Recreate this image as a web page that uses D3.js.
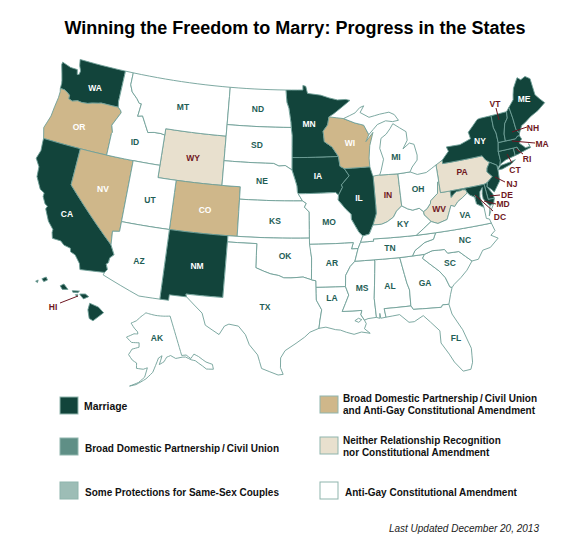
<!DOCTYPE html>
<html>
<head>
<meta charset="utf-8">
<script src="https://cdn.jsdelivr.net/npm/d3@7"></script>
<style>
  html, body { margin: 0; padding: 0; background: #fff; }
  svg { display: block; }
  text { font-family: "Liberation Sans", Arial, sans-serif; }
</style>
</head>
<body>
<svg id="chart" width="588" height="551"></svg>
<script>
// state outlines, [lon, lat]
const WA = [[[-122.76,49],[-117.03,49],[-117.04,46.42],[-116.92,45.99],[-118.98,46],[-119.3,45.93],[-119.99,45.82],[-120.5,45.7],[-121.2,45.65],[-121.7,45.7],[-122.3,45.55],[-122.76,45.65],[-122.8,45.95],[-123.2,46.15],[-123.55,46.26],[-124.05,46.27],[-124.07,46.7],[-124.15,46.95],[-124.4,47.5],[-124.73,48.17],[-124.7,48.38],[-123.6,48.15],[-122.75,48.14],[-122.6,47.75],[-122.38,47.8],[-122.32,48.1],[-122.6,48.5]]];
const OR = [[[-124.05,46.27],[-123.55,46.26],[-123.2,46.15],[-122.8,45.95],[-122.76,45.65],[-122.3,45.55],[-121.7,45.7],[-121.2,45.65],[-120.5,45.7],[-119.99,45.82],[-119.3,45.93],[-118.98,46],[-116.92,45.99],[-116.55,45.75],[-116.46,45.6],[-116.85,45],[-117.2,44.45],[-116.95,43.9],[-117.03,43.8],[-117.03,42],[-124.21,42],[-124.55,42.84],[-124.15,43.9],[-124.07,44.7],[-123.95,45.5],[-123.95,46]]];
const CA = [[[-124.21,42],[-120,42],[-120,39],[-114.63,35],[-114.14,34.26],[-114.5,33.95],[-114.53,33.55],[-114.72,33.4],[-114.5,33],[-114.72,32.72],[-117.12,32.53],[-117.3,33],[-117.9,33.6],[-118.4,33.75],[-118.5,34.03],[-119.2,34.15],[-119.6,34.42],[-120.47,34.45],[-120.65,34.9],[-120.65,35.15],[-121.3,35.7],[-121.9,36.6],[-121.8,36.85],[-122.1,36.97],[-122.5,37.5],[-122.5,37.8],[-123,38],[-123.7,38.9],[-123.8,39.7],[-124.35,40.3],[-124.1,41],[-124.2,41.75]]];
const NV = [[[-120,42],[-114.04,42],[-114.04,36.2],[-114.75,36.1],[-114.63,35],[-120,39]]];
const ID = [[[-117.03,49],[-116.05,49],[-116.05,48],[-115.7,47.45],[-115,47],[-114.6,46.65],[-114.35,46.65],[-114.5,45.6],[-113.95,45.7],[-113.45,45.05],[-113,44.45],[-112.3,44.55],[-111.5,44.55],[-111.05,44.48],[-111.05,42],[-117.03,42],[-117.03,43.8],[-116.95,43.9],[-117.2,44.45],[-116.85,45],[-116.46,45.6],[-116.55,45.75],[-116.92,45.99],[-117.04,46.42]]];
const MT = [[[-116.05,49],[-104.05,49],[-104.05,45],[-111.05,45],[-111.05,44.48],[-111.5,44.55],[-112.3,44.55],[-113,44.45],[-113.45,45.05],[-113.95,45.7],[-114.5,45.6],[-114.35,46.65],[-114.6,46.65],[-115,47],[-115.7,47.45],[-116.05,48]]];
const WY = [[[-111.05,45],[-104.05,45],[-104.05,41],[-111.05,41]]];
const UT = [[[-114.04,42],[-111.05,42],[-111.05,41],[-109.05,41],[-109.05,37],[-114.04,37]]];
const CO = [[[-109.05,41],[-102.05,41],[-102.05,37],[-109.05,37]]];
const AZ = [[[-114.04,37],[-109.05,37],[-109.05,31.33],[-111.07,31.33],[-114.81,32.5],[-114.72,32.72],[-114.5,33],[-114.72,33.4],[-114.53,33.55],[-114.5,33.95],[-114.14,34.26],[-114.63,35],[-114.75,36.1],[-114.04,36.2]]];
const NM = [[[-109.05,37],[-103,37],[-103.05,32],[-106.62,32],[-106.53,31.78],[-108.2,31.78],[-108.2,31.33],[-109.05,31.33]]];
const ND = [[[-104.05,49],[-97.23,49],[-97.1,48],[-96.85,47.5],[-96.6,46.35],[-96.56,45.94],[-104.05,45.94]]];
const SD = [[[-104.05,45.94],[-96.56,45.94],[-96.45,45.3],[-96.45,43.5],[-96.45,42.5],[-97.2,42.85],[-97.9,42.8],[-98.5,43],[-104.05,43]]];
const NE = [[[-104.05,43],[-98.5,43],[-97.9,42.8],[-97.2,42.85],[-96.45,42.5],[-96.1,41.7],[-95.9,41.2],[-95.85,40.7],[-95.3,40],[-102.05,40],[-102.05,41],[-104.05,41]]];
const KS = [[[-102.05,40],[-95.3,40],[-94.9,39.8],[-95.1,39.5],[-94.6,39.1],[-94.62,37],[-102.05,37]]];
const OK = [[[-103,37],[-94.62,37],[-94.43,35.4],[-94.48,33.64],[-95.3,33.87],[-96.5,33.8],[-97.2,33.8],[-97.7,33.98],[-98.5,34.1],[-99.2,34.3],[-100,34.56],[-100,36.5],[-103,36.5]]];
const TX = [[[-103,36.5],[-100,36.5],[-100,34.56],[-99.2,34.3],[-98.5,34.1],[-97.7,33.98],[-97.2,33.8],[-96.5,33.8],[-95.3,33.87],[-94.48,33.64],[-94.04,33.55],[-94.04,33.02],[-94.04,31.99],[-93.55,31.2],[-93.75,30.3],[-93.85,29.7],[-94.7,29.4],[-95.2,29],[-96,28.5],[-97,27.9],[-97.4,27.3],[-97.4,26.5],[-97.15,25.96],[-97.6,25.9],[-99.1,26.4],[-99.5,27.5],[-100.3,28.3],[-100.7,29.1],[-101.4,29.77],[-102.3,29.88],[-102.7,29.7],[-103.15,28.98],[-104.5,29.65],[-104.9,30.6],[-106.53,31.78],[-106.62,32],[-103.05,32]]];
const MN = [[[-97.23,49],[-95.15,49],[-95.15,49.38],[-94.8,49.3],[-94.6,48.72],[-93,48.55],[-92,48.3],[-91,48.1],[-90,48.1],[-89.5,48],[-91.5,47],[-92.1,46.75],[-92.3,46.1],[-92.85,45.6],[-92.75,44.75],[-91.9,44.3],[-91.22,43.5],[-96.45,43.5],[-96.45,45.3],[-96.56,45.94],[-96.6,46.35],[-96.85,47.5],[-97.1,48]]];
const IA = [[[-96.45,43.5],[-91.22,43.5],[-91.1,42.7],[-90.64,42.5],[-90.15,41.9],[-91.05,41.2],[-90.95,41],[-91.42,40.38],[-91.73,40.61],[-95.77,40.58],[-95.85,40.7],[-95.9,41.2],[-96.1,41.7],[-96.45,42.5]]];
const MO = [[[-95.77,40.58],[-91.73,40.61],[-91.42,40.38],[-91.5,40],[-90.75,39.25],[-90.2,38.8],[-90.2,38.4],[-89.5,37.3],[-89.13,36.98],[-89.4,36.5],[-89.7,36],[-90.37,36],[-90.15,36.5],[-94.62,36.5],[-94.62,37],[-94.6,39.1],[-95.1,39.5],[-94.9,39.8],[-95.3,40]]];
const AR = [[[-94.62,36.5],[-90.15,36.5],[-90.37,36],[-89.7,36],[-90.1,35],[-90.6,34.6],[-91.1,33.9],[-91.17,33],[-94.04,33.02],[-94.04,33.55],[-94.48,33.64],[-94.43,35.4]]];
const LA = [[[-94.04,33.02],[-91.17,33],[-90.9,32.3],[-91.6,31],[-89.73,31],[-89.85,30.65],[-89.55,30.2],[-89.4,29.9],[-89.6,29.5],[-89.1,29.1],[-89.9,29.25],[-90.6,29.1],[-91.3,29.3],[-91.85,29.5],[-92.3,29.55],[-93.2,29.78],[-93.85,29.7],[-93.75,30.3],[-93.55,31.2],[-94.04,31.99]],
  [[-90.45,30.2],[-90.1,30.38],[-89.8,30.25],[-90.1,30.05]]];
const MS = [[[-90.1,35],[-88.2,35],[-88.1,34.9],[-88.47,31.9],[-88.4,30.35],[-89.2,30.3],[-89.55,30.2],[-89.85,30.65],[-89.73,31],[-91.6,31],[-90.9,32.3],[-91.17,33],[-91.1,33.9],[-90.6,34.6]]];
const AL = [[[-88.2,35],[-85.6,34.98],[-85.18,32.87],[-85,32.3],[-85.05,31],[-87.6,31],[-87.5,30.3],[-88,30.25],[-88.05,30.65],[-88.1,30.25],[-88.4,30.35],[-88.47,31.9],[-88.1,34.9]]];
const GA = [[[-85.6,34.98],[-83.1,35],[-83.35,34.7],[-82.75,34.2],[-81.9,33.5],[-81.4,32.9],[-81.1,32.1],[-80.9,32.03],[-81.15,31.5],[-81.45,30.72],[-82.05,30.75],[-82.2,30.57],[-84.86,30.7],[-85.05,31],[-85,32.3],[-85.18,32.87]]];
const FL = [[[-87.6,31],[-85.05,31],[-84.86,30.7],[-82.2,30.57],[-82.05,30.75],[-81.45,30.72],[-81.3,29.9],[-80.55,28.5],[-80.05,26.9],[-80.15,25.75],[-80.4,25.2],[-81.1,25.15],[-81.75,26],[-82.1,26.7],[-82.7,27.7],[-82.65,28.7],[-83.4,29.5],[-84,30.1],[-84.9,29.7],[-85.4,29.7],[-86.2,30.4],[-87.5,30.3]]];
const SC = [[[-83.1,35],[-82.3,35.2],[-81.05,35.15],[-80.8,34.82],[-79.67,34.8],[-78.55,33.86],[-79.2,33.2],[-79.9,32.7],[-80.65,32.25],[-80.9,32.03],[-81.1,32.1],[-81.4,32.9],[-81.9,33.5],[-82.75,34.2],[-83.35,34.7]]];
const NC = [[[-84.32,34.99],[-83.1,35],[-82.3,35.2],[-81.05,35.15],[-80.8,34.82],[-79.67,34.8],[-78.55,33.86],[-77.9,33.9],[-77.3,34.55],[-76.5,34.65],[-75.55,35.25],[-76.2,35.6],[-75.7,35.9],[-75.9,36.55],[-81.68,36.59],[-82,36.1],[-82.9,35.95],[-84,35.4]]];
const TN = [[[-90.1,35],[-88.2,35],[-85.6,34.98],[-84.32,34.99],[-84,35.4],[-82.9,35.95],[-82,36.1],[-81.68,36.59],[-83.67,36.6],[-88.07,36.68],[-88.07,36.5],[-89.4,36.5],[-89.7,36]]];
const KY = [[[-89.4,36.5],[-88.07,36.5],[-88.07,36.68],[-83.67,36.6],[-81.97,37.54],[-82.6,38.17],[-82.6,38.42],[-83,38.73],[-83.7,38.65],[-84.2,38.8],[-84.8,39.1],[-85.4,38.73],[-85.8,38.27],[-86.5,37.95],[-87.1,37.8],[-88,37.8],[-88.45,37.1],[-89.13,36.98]]];
const VA = [[[-83.67,36.6],[-81.68,36.59],[-75.9,36.55],[-76,36.9],[-76.3,37],[-76.3,37.9],[-77,38.3],[-77.05,38.85],[-77.5,39.1],[-77.72,39.32],[-78.35,39],[-78.87,38.77],[-79.3,38.42],[-79.65,38.57],[-80.3,37.5],[-81.3,37.3],[-81.97,37.54]],
  [[-75.95,37.15],[-75.65,37.95],[-75.24,38.03],[-75.7,37.5]]];
const WV = [[[-81.97,37.54],[-81.3,37.3],[-80.3,37.5],[-79.65,38.57],[-79.3,38.42],[-78.87,38.77],[-78.35,39],[-77.72,39.32],[-77.83,39.6],[-78.2,39.65],[-78.4,39.6],[-78.8,39.6],[-79.1,39.47],[-79.48,39.2],[-79.48,39.72],[-80.52,39.72],[-80.52,40.64],[-80.65,40.6],[-80.85,39.7],[-81.7,39.2],[-81.75,39],[-82.2,38.6],[-82.6,38.42],[-82.6,38.17]]];
const OH = [[[-84.8,41.7],[-83.45,41.73],[-82.7,41.45],[-81.7,41.5],[-80.52,41.98],[-80.52,40.64],[-80.65,40.6],[-80.85,39.7],[-81.7,39.2],[-81.75,39],[-82.2,38.6],[-82.6,38.42],[-83,38.73],[-83.7,38.65],[-84.2,38.8],[-84.8,39.1]]];
const IN = [[[-87.53,41.71],[-87.2,41.75],[-86.8,41.76],[-84.8,41.7],[-84.8,39.1],[-85.4,38.73],[-85.8,38.27],[-86.5,37.95],[-87.1,37.8],[-88,37.8],[-87.55,38.7],[-87.53,39.35]]];
const IL = [[[-90.64,42.5],[-87.8,42.5],[-87.6,41.85],[-87.53,41.71],[-87.53,39.35],[-87.55,38.7],[-88,37.8],[-88.45,37.1],[-89.13,36.98],[-89.5,37.3],[-90.2,38.4],[-90.2,38.8],[-90.75,39.25],[-91.5,40],[-91.42,40.38],[-90.95,41],[-91.05,41.2],[-90.15,41.9]]];
const WI = [[[-92.1,46.75],[-90.4,46.55],[-89.1,46.13],[-88.1,45.9],[-87.6,45.1],[-88,44.55],[-87.1,45.25],[-87.6,44.2],[-87.8,43.2],[-87.8,42.5],[-90.64,42.5],[-91.1,42.7],[-91.22,43.5],[-91.9,44.3],[-92.75,44.75],[-92.85,45.6],[-92.3,46.1]]];
const MI = [[[-84.8,41.7],[-83.45,41.73],[-83.15,42.1],[-82.5,42.6],[-82.42,43],[-82.6,43.9],[-83.1,44.05],[-83.9,43.65],[-83.3,44.3],[-83.3,45],[-84.7,45.78],[-85.1,45.4],[-85.6,45],[-86.25,44.7],[-86.5,43.9],[-86.2,43],[-86.6,42.1],[-86.8,41.76]],
  [[-90.4,46.55],[-89,46.95],[-88.4,47.35],[-87.9,47.47],[-88.4,46.95],[-87.4,46.5],[-86.1,46.67],[-85,46.75],[-84.4,46.5],[-84,46],[-84.7,45.95],[-85.5,46.08],[-86.5,45.85],[-87.6,45.1],[-88.1,45.9],[-89.1,46.13]]];
const PA = [[[-80.52,41.98],[-79.76,42.27],[-79.76,42],[-75.35,42],[-75.05,41.6],[-74.7,41.36],[-75.1,40.95],[-75.2,40.65],[-74.75,40.2],[-75.42,39.8],[-75.79,39.72],[-80.52,39.72]]];
const NY = [[[-79.76,42.27],[-78.9,42.9],[-79.05,43.27],[-77.5,43.25],[-76.2,43.55],[-76.3,44.1],[-75,44.95],[-74.7,45],[-73.34,45],[-73.4,44],[-73.25,43.55],[-73.27,42.75],[-73.5,42.05],[-73.5,41.3],[-73.65,41],[-73.95,40.75],[-74,41],[-74.7,41.36],[-75.05,41.6],[-75.35,42],[-79.76,42]],
  [[-74,40.6],[-73.6,40.9],[-72.5,41],[-71.9,41.07],[-72.5,40.8],[-73.5,40.6]]];
const NJ = [[[-74.7,41.36],[-74,41],[-74,40.5],[-74.1,39.7],[-74.9,38.95],[-75.15,39.2],[-75.55,39.5],[-75.42,39.8],[-74.75,40.2],[-75.2,40.65],[-75.1,40.95]]];
const DE = [[[-75.79,39.72],[-75.42,39.8],[-75.55,39.5],[-75.1,38.8],[-75.05,38.45],[-75.7,38.46]]];
const MD = [[[-79.48,39.72],[-75.79,39.72],[-75.7,38.46],[-75.05,38.45],[-75.24,38.03],[-75.65,37.95],[-75.9,38.2],[-76.2,38.6],[-76.2,39],[-76.05,39.5],[-76.4,39.2],[-76.5,38.8],[-76.4,38.3],[-76.3,37.9],[-77,38.3],[-77.05,38.85],[-77.5,39.1],[-77.72,39.32],[-77.83,39.6],[-78.2,39.65],[-78.4,39.6],[-78.8,39.6],[-79.1,39.47],[-79.48,39.2]]];
const DC = [[[-77.12,38.93],[-77.04,39],[-76.91,38.89],[-77.04,38.8]]];
const CT = [[[-73.5,42.05],[-71.8,42.02],[-71.8,41.4],[-72.9,41.25],[-73.65,41],[-73.5,41.3]]];
const RI = [[[-71.8,42.02],[-71.38,42.02],[-71.15,41.5],[-71.4,41.45],[-71.8,41.4]]];
const MA = [[[-73.5,42.05],[-73.27,42.75],[-72.45,42.73],[-71.3,42.7],[-71,42.88],[-70.8,42.87],[-70.65,42.55],[-71.05,42.3],[-70.65,41.95],[-70.5,41.8],[-70,41.8],[-70.05,42.05],[-69.95,41.7],[-70.6,41.6],[-71.15,41.5],[-71.38,42.02],[-71.8,42.02]]];
const VT = [[[-73.34,45],[-71.5,45.01],[-71.6,44.5],[-72.05,44.1],[-72.4,43.3],[-72.45,42.73],[-73.27,42.75],[-73.25,43.55],[-73.4,44]]];
const NH = [[[-71.5,45.01],[-71.1,45.3],[-71,44.35],[-70.98,43.4],[-70.7,43.07],[-70.8,42.87],[-71,42.88],[-71.3,42.7],[-72.45,42.73],[-72.4,43.3],[-72.05,44.1],[-71.6,44.5]]];
const ME = [[[-71.1,45.3],[-70.4,45.8],[-70.25,46.2],[-70,46.7],[-69.25,47.45],[-68.9,47.2],[-68.3,47.36],[-67.8,47.07],[-67.8,45.7],[-67.45,45.3],[-67,44.85],[-68,44.4],[-69,44.1],[-69.8,43.75],[-70.25,43.6],[-70.7,43.07],[-70.98,43.4],[-71,44.35]]];
const AK = [[[-141,69.65],[-145,70],[-150,70.5],[-156.6,71.35],[-160,70.5],[-163,69.5],[-166.2,68.9],[-164,67.8],[-162,67],[-161.8,66.5],[-164,66.5],[-168,65.6],[-165,64.5],[-161,64.5],[-161,63.5],[-164.5,63],[-166,61.7],[-164,60.5],[-162,59.9],[-162,58.7],[-159,58.5],[-157.2,58.8],[-158.5,56.7],[-161,55.5],[-164.5,54.6],[-162,55],[-158,56.3],[-155,57.7],[-153.5,59.2],[-151.8,60.8],[-150,61.2],[-151.8,59.3],[-149.5,59.8],[-148,60.7],[-146,60.9],[-144,60],[-141,59.9],[-139.5,59.7],[-137.5,58.7],[-136,58.2],[-134,56.5],[-133,55.5],[-130.5,54.8],[-130,55.9],[-132,57],[-134,58.8],[-135.5,59.7],[-137.5,59],[-139,60.1],[-141,60.3]]];
const HI = [[[-160.25,21.9],[-160.05,22],[-160.1,21.8]],
  [[-159.75,22.1],[-159.4,22.23],[-159.3,22],[-159.6,21.88]],
  [[-158.27,21.57],[-157.97,21.71],[-157.65,21.3],[-158.1,21.3]],
  [[-157.3,21.2],[-156.72,21.17],[-156.85,21.05],[-157.25,21.08]],
  [[-157.05,20.9],[-156.85,20.9],[-156.9,20.75]],
  [[-156.7,20.95],[-156.25,20.95],[-155.98,20.75],[-156.4,20.58],[-156.6,20.8]],
  [[-155.9,20.25],[-155.2,19.95],[-154.8,19.52],[-155.65,18.92],[-155.95,19.1],[-156.05,19.75]]];

// legend and title text
const titleText = "Winning the Freedom to Marry: Progress in the States";
const updatedText = "Last Updated December 20, 2013";
const legendLabels = [
  ["Marriage"],
  ["Broad Domestic Partnership\u2009/\u2009Civil Union"],
  ["Some Protections for Same-Sex Couples"],
  ["Broad Domestic Partnership\u2009/\u2009Civil Union", "and Anti-Gay Constitutional Amendment"],
  ["Neither Relationship Recognition", "nor Constitutional Amendment"],
  ["Anti-Gay Constitutional Amendment"]
];

// categories
const marriageStates = ["WA","CA","NM","MN","IA","IL","NY","ME","NH","VT","MA","RI","CT","NJ","DE","MD","DC","HI"];
const partnershipAmendStates = ["OR","NV","CO","WI"];
const neitherStates = ["WY","PA","IN","WV"];
const amendmentStates = ["ID","MT","UT","AZ","ND","SD","NE","KS","OK","TX","MO","AR","LA","MS","AL","GA","FL","SC","NC","TN","KY","VA","OH","MI","AK"];

const outlines = {WA,OR,CA,NV,ID,MT,WY,UT,CO,AZ,NM,ND,SD,NE,KS,OK,TX,MN,IA,MO,AR,LA,MS,AL,GA,FL,SC,NC,TN,KY,VA,WV,OH,IN,IL,WI,MI,PA,NY,NJ,DE,MD,DC,CT,RI,MA,VT,NH,ME,AK,HI};

const colors = { marriage: "#12443b", partnership: "#5f8f86", protections: "#9dbdb6", tan: "#cfb78a", beige: "#e8e0ce", none: "#fff" };
const border = "#6f9f97";
const teal = "#1f5e56", maroon = "#6f1722";

function fillOf(st) {
  if (marriageStates.includes(st)) return colors.marriage;
  if (partnershipAmendStates.includes(st)) return colors.tan;
  if (neitherStates.includes(st)) return colors.beige;
  return colors.none;
}

let svg = d3.select("#chart");

// Lower 48 in Albers, Alaska and Hawaii get their own insets
let mainProj = d3.geoAlbers().rotate([96,0]).center([0,37.5]).parallels([29.5,45.5]).scale(705).translate([296,232]);
let akProj = d3.geoConicEqualArea().rotate([160,0]).center([0,64]).parallels([55,65]).scale(252).translate([141,345]);
let hiProj = d3.geoConicEqualArea().rotate([157,0]).center([0,20.8]).parallels([8,18]).scale(760).translate([76,296]);

function projFor(st) {
  return st == "AK" ? akProj : st == "HI" ? hiProj : mainProj;
}

// split long edges so borders along parallels curve with the projection
function densify(ring) {
  let out = [];
  ring.forEach((p, i) => {
    let q = ring[(i + 1) % ring.length];
    let n = Math.ceil(Math.max(Math.abs(q[0] - p[0]), Math.abs(q[1] - p[1])));
    for (let k = 0; k < Math.max(n, 1); k++) {
      out.push([p[0] + (q[0] - p[0]) * k / Math.max(n, 1), p[1] + (q[1] - p[1]) * k / Math.max(n, 1)]);
    }
  });
  return out;
}

let line = d3.line().curve(d3.curveLinearClosed);

let stateKeys = Object.keys(outlines).sort((a, b) => (fillOf(a) == colors.none) - (fillOf(b) == colors.none));

svg.append("g").selectAll("path")
  .data(stateKeys)
  .join("path")
  .attr("d", st => outlines[st].map(r => line(densify(r).map(projFor(st)))).join(""))
  .attr("fill", fillOf)
  .attr("fill-rule", "evenodd")
  .attr("stroke", border)
  .attr("stroke-width", 0.9)
  .attr("stroke-linejoin", "round");

// title
svg.append("text").attr("x", 295).attr("y", 34).attr("text-anchor", "middle")
  .attr("font-size", 18).attr("font-weight", "bold").attr("fill", "#000").text(titleText);

// state labels placed by eye
const labelPos = {WA:[95,88],OR:[79,127],CA:[67,214],NV:[103,189],ID:[135,142],MT:[183,107],WY:[193,158],UT:[150,200],AZ:[139,261],NM:[197,266],CO:[205,210],ND:[258,109],SD:[257,145],NE:[262,181],KS:[275,221],OK:[285,256],TX:[265,307],MN:[309,124],IA:[318,176],WI:[350,143],IL:[359,198],MO:[329,222],AR:[332,263],LA:[332,298],MS:[362,288],AL:[390,286],GA:[425,283],SC:[450,263],NC:[465,240],TN:[390,248],KY:[403,224],FL:[456,338],VA:[465,215],OH:[418,189],IN:[388,195],MI:[396,157],WV:[439,209],PA:[462,172],NY:[480,141],ME:[524,99],AK:[157,338],
  VT:[495,104],NH:[533,128],MA:[542,144],RI:[527,159],CT:[515,170],NJ:[512,184],DE:[507,195],MD:[503,204],DC:[500,217],HI:[53,307]};
const leaders = {VT:[496,108,499,120],NH:[527,127,512,132],MA:[535,143,512,141],RI:[523,154,516,149],CT:[512,163,507,154],NJ:[505,182,495,177],DE:[500,195,490,196],MD:[496,204,484,201],DC:[493,211,475,195],HI:[60,303,78,296]};

svg.append("g").selectAll("line")
  .data(Object.keys(leaders))
  .join("line")
  .attr("x1", d => leaders[d][0]).attr("y1", d => leaders[d][1])
  .attr("x2", d => leaders[d][2]).attr("y2", d => leaders[d][3])
  .attr("stroke", maroon).attr("stroke-width", 1);

function labelColor(st) {
  if (leaders[st] || neitherStates.includes(st)) return maroon;
  if (fillOf(st) == colors.none) return teal;
  return "#fff";
}

svg.append("g").selectAll("text")
  .data(Object.keys(labelPos))
  .join("text")
  .attr("x", d => labelPos[d][0]).attr("y", d => labelPos[d][1] + 3)
  .attr("text-anchor", "middle")
  .attr("font-size", 8.5).attr("font-weight", "bold")
  .attr("fill", labelColor)
  .text(d => d);

// legend
const legendSwatch = [
  [60,397,colors.marriage],[60,438,colors.partnership],[60,482,colors.protections],
  [320,396,colors.tan],[320,437,colors.beige],[320,482,colors.none]
];
const legendTextX = [84,85,85,343,343,345];
const legendTextY = [410,452,496,402,444,496];

svg.append("g").selectAll("rect")
  .data(legendSwatch)
  .join("rect")
  .attr("x", d => d[0]).attr("y", d => d[1])
  .attr("width", 18).attr("height", 17)
  .attr("fill", d => d[2])
  .attr("stroke", "#8fb5ad").attr("stroke-width", 1);

legendLabels.forEach((lines, i) => {
  lines.forEach((t, j) => {
    svg.append("text")
      .attr("x", legendTextX[i]).attr("y", legendTextY[i] + j * 12)
      .attr("font-size", i == 0 ? 10.4 : 10).attr("font-weight", "bold").attr("fill", "#111")
      .text(t);
  });
});

svg.append("text").attr("x", 539).attr("y", 532).attr("text-anchor", "end")
  .attr("font-size", 10).attr("font-style", "italic").attr("fill", "#222").text(updatedText);
</script>
</body>
</html>
